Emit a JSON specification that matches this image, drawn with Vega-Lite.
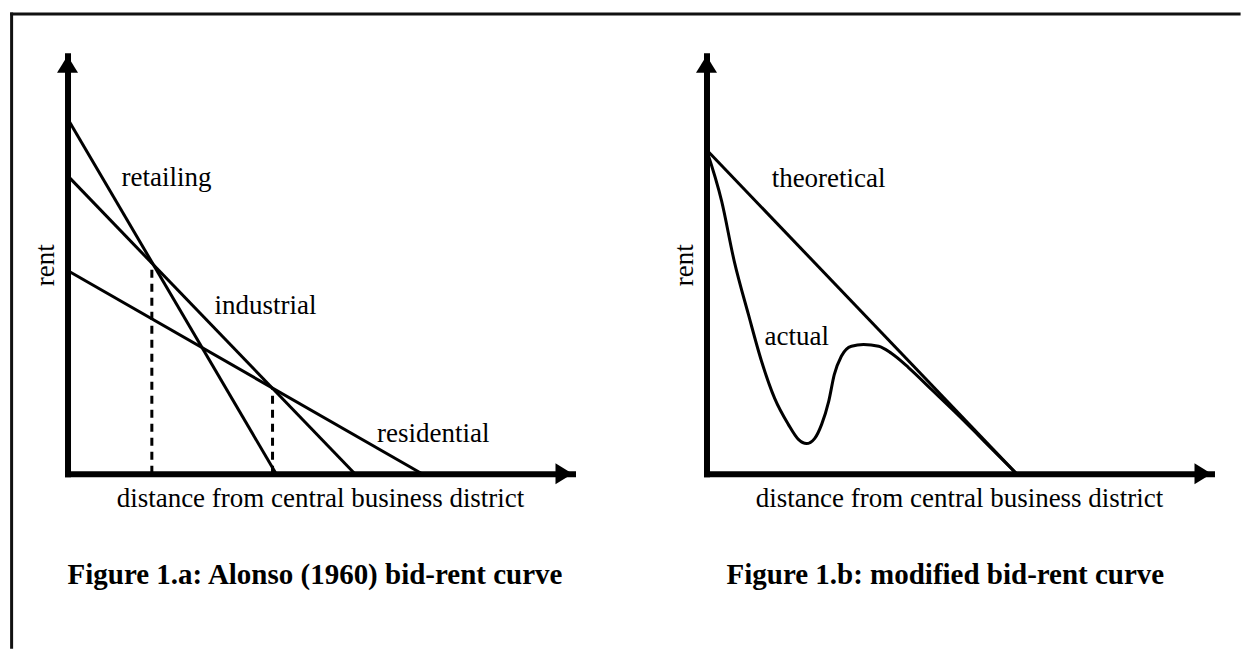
{
  "$schema": "https://vega.github.io/schema/vega-lite/v6.json",
  "background": "white",
  "padding": {"left": 8.5, "top": 11.7, "right": 0, "bottom": 0},
  "bounds": "flush",
  "spacing": 134,
  "config": {
    "view": {"stroke": null},
    "font": "Liberation Serif",
    "axis": {
      "domainColor": "black",
      "domainWidth": 6,
      "domainCap": "square",
      "ticks": false,
      "labels": false,
      "grid": false,
      "titleFont": "Liberation Serif",
      "titleFontSize": 27,
      "titleFontWeight": "normal",
      "titleColor": "black"
    },
    "axisY": {"titlePadding": 8},
    "axisX": {"titlePadding": 12}
  },
  "datasets": {
    "frame": [
      {"d": -11.07, "d2": 232, "rent": 110, "rent2": 110},
      {"d": -11.07, "d2": -11.07, "rent": 110, "rent2": -41.5}
    ],
    "linesA": [
      {"series": "retailing", "d": 0, "rent": 85},
      {"series": "retailing", "d": 41.3, "rent": 0},
      {"series": "industrial", "d": 0, "rent": 71.3},
      {"series": "industrial", "d": 56.9, "rent": 0},
      {"series": "residential", "d": 0, "rent": 48.6},
      {"series": "residential", "d": 70.2, "rent": 0}
    ],
    "dashA": [
      {"d": 16.7, "rent": 0, "rent2": 50.5},
      {"d": 40.6, "rent": 0, "rent2": 20.5}
    ],
    "arrows": [
      {"d": 0, "rent": 100, "dir": "up"},
      {"d": 100, "rent": 0, "dir": "right"}
    ],
    "labelsA": [
      {"label": "retailing", "d": 10.7, "rent": 68.8},
      {"label": "industrial", "d": 29.1, "rent": 38.2},
      {"label": "residential", "d": 61.3, "rent": 7.7}
    ],
    "captionA": [
      {"label": "Figure 1.a: Alonso (1960) bid-rent curve", "d": 49.0, "rent": -26.3}
    ],
    "linesB": [
      {"series": "theoretical", "d": 0, "rent": 77.5},
      {"series": "theoretical", "d": 61.4, "rent": 0},
      {"series": "actual", "d": 0, "rent": 77.5},
      {"series": "actual", "d": 3.0, "rent": 65.2},
      {"series": "actual", "d": 5.5, "rent": 50.8},
      {"series": "actual", "d": 8.3, "rent": 38.1},
      {"series": "actual", "d": 10.9, "rent": 26.9},
      {"series": "actual", "d": 13.5, "rent": 18.0},
      {"series": "actual", "d": 16.2, "rent": 11.8},
      {"series": "actual", "d": 18.2, "rent": 8.2},
      {"series": "actual", "d": 19.8, "rent": 7.2},
      {"series": "actual", "d": 21.4, "rent": 8.4},
      {"series": "actual", "d": 22.8, "rent": 11.8},
      {"series": "actual", "d": 24.2, "rent": 17.3},
      {"series": "actual", "d": 25.3, "rent": 23.7},
      {"series": "actual", "d": 26.7, "rent": 28.1},
      {"series": "actual", "d": 28.7, "rent": 30.5},
      {"series": "actual", "d": 31.1, "rent": 30.9},
      {"series": "actual", "d": 34.1, "rent": 30.5},
      {"series": "actual", "d": 36.6, "rent": 28.8},
      {"series": "actual", "d": 40.0, "rent": 25.4},
      {"series": "actual", "d": 44.6, "rent": 20.1},
      {"series": "actual", "d": 49.1, "rent": 14.9},
      {"series": "actual", "d": 53.1, "rent": 10.1},
      {"series": "actual", "d": 57.0, "rent": 5.3},
      {"series": "actual", "d": 61.4, "rent": 0}
    ],
    "labelsB": [
      {"label": "theoretical", "d": 12.9, "rent": 68.7},
      {"label": "actual", "d": 11.5, "rent": 30.8}
    ],
    "captionB": [
      {"label": "Figure 1.b: modified bid-rent curve", "d": 47.3, "rent": -26.3}
    ]
  },
  "hconcat": [
    {
      "width": 505,
      "height": 418,
      "encoding": {
        "x": {"field": "d", "type": "quantitative", "scale": {"domain": [0, 100], "nice": false, "zero": false}, "axis": {"title": "distance from central business district"}},
        "y": {"field": "rent", "type": "quantitative", "scale": {"domain": [0, 100], "nice": false, "zero": false}, "axis": {"title": "rent"}}
      },
      "layer": [
        {
          "data": {"name": "frame"},
          "mark": {"type": "rule", "color": "#111", "strokeWidth": 3, "strokeCap": "square"},
          "encoding": {"x2": {"field": "d2"}, "y2": {"field": "rent2"}}
        },
        {
          "data": {"name": "linesA"},
          "mark": {"type": "line", "color": "black", "strokeWidth": 3},
          "encoding": {"detail": {"field": "series"}}
        },
        {
          "data": {"name": "dashA"},
          "mark": {"type": "rule", "color": "black", "strokeWidth": 3, "strokeDash": [8, 6]},
          "encoding": {"y2": {"field": "rent2"}}
        },
        {
          "data": {"name": "arrows"},
          "mark": {"type": "point", "filled": true, "color": "black", "opacity": 1, "size": 1764},
          "encoding": {"shape": {"field": "dir", "type": "nominal", "legend": null, "scale": {"domain": ["up", "right"], "range": ["M0,0L0.5,0.81L-0.5,0.81Z", "M0,0L-0.81,-0.5L-0.81,0.5Z"]}}}
        },
        {
          "data": {"name": "labelsA"},
          "mark": {"type": "text", "align": "left", "baseline": "alphabetic", "font": "Liberation Serif", "fontSize": 27, "color": "black"},
          "encoding": {"text": {"field": "label"}}
        },
        {
          "data": {"name": "captionA"},
          "mark": {"type": "text", "align": "center", "baseline": "alphabetic", "font": "Liberation Serif", "fontSize": 29, "fontWeight": "bold", "color": "black"},
          "encoding": {"text": {"field": "label"}}
        }
      ]
    },
    {
      "width": 505,
      "height": 418,
      "encoding": {
        "x": {"field": "d", "type": "quantitative", "scale": {"domain": [0, 100], "nice": false, "zero": false}, "axis": {"title": "distance from central business district"}},
        "y": {"field": "rent", "type": "quantitative", "scale": {"domain": [0, 100], "nice": false, "zero": false}, "axis": {"title": "rent"}}
      },
      "layer": [
        {
          "data": {"name": "linesB"},
          "mark": {"type": "line", "color": "black", "strokeWidth": 3, "interpolate": "monotone"},
          "encoding": {"detail": {"field": "series"}}
        },
        {
          "data": {"name": "arrows"},
          "mark": {"type": "point", "filled": true, "color": "black", "opacity": 1, "size": 1764},
          "encoding": {"shape": {"field": "dir", "type": "nominal", "legend": null, "scale": {"domain": ["up", "right"], "range": ["M0,0L0.5,0.81L-0.5,0.81Z", "M0,0L-0.81,-0.5L-0.81,0.5Z"]}}}
        },
        {
          "data": {"name": "labelsB"},
          "mark": {"type": "text", "align": "left", "baseline": "alphabetic", "font": "Liberation Serif", "fontSize": 27, "color": "black"},
          "encoding": {"text": {"field": "label"}}
        },
        {
          "data": {"name": "captionB"},
          "mark": {"type": "text", "align": "center", "baseline": "alphabetic", "font": "Liberation Serif", "fontSize": 29, "fontWeight": "bold", "color": "black"},
          "encoding": {"text": {"field": "label"}}
        }
      ]
    }
  ]
}
